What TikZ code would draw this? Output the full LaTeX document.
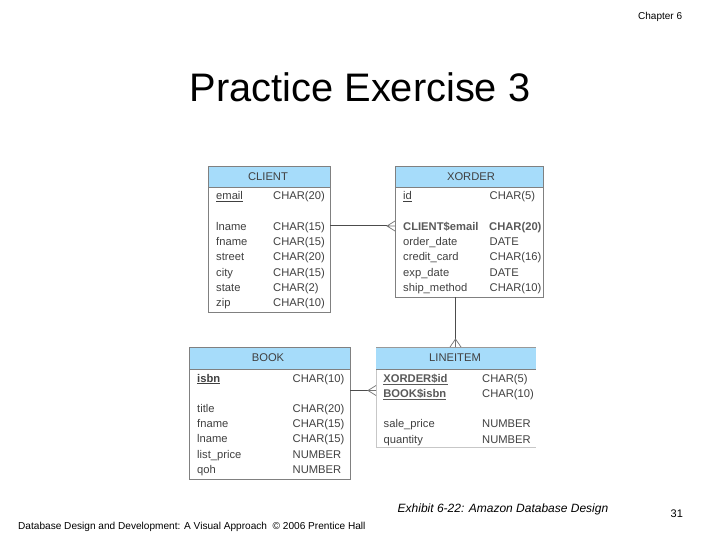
\documentclass[tikz,border=0pt]{standalone}
\usepackage{fontspec}
\setmainfont{Liberation Sans}
\newcommand{\attrsize}{\fontsize{11.2}{13}\selectfont}
\tikzset{
  x=1pt,y=-1pt,
  entbox/.style={draw=black!50,line width=0.8pt,fill=white,minimum width=#1,anchor=north west,inner sep=0pt},
  headfill/.style={fill=headblue,draw=black!50,line width=0.8pt},
  headtxt/.style={font=\attrsize,text=black!75,anchor=center,inner sep=0pt},
  attr/.style={font=\attrsize,text=black!75,anchor=base west,inner sep=0pt},
  keyattr/.style={font=\attrsize\bfseries,text=black!65,anchor=base west,inner sep=0pt},
  rel/.style={draw=black!70,line width=1pt},
  crow/.style={draw=black!55,line width=0.7pt},
  plain/.style={text=black,inner sep=0pt}
}
\definecolor{headblue}{RGB}{166,220,250}
\newcounter{fc}
\newcommand{\row}[5][attr]{\stepcounter{fc}\node[#1] (f\arabic{fc}) at (#2,#4) {#5};}
\begin{document}
\begin{tikzpicture}
\useasboundingbox (0,0) rectangle (720,540);
\fill[white] (0,0) rectangle (720,540);
% title and page texts
\node[plain,anchor=base west,font=\fontsize{10}{11}\selectfont] (chap) at (638,19.5) {Chapter 6};
\node[plain,anchor=base west,font=\fontsize{39.8}{44}\selectfont] (title) at (189.5,102) {Practice Exercise 3};
\node[plain,anchor=base west,font=\fontsize{12}{14}\selectfont\itshape] (exh) at (397.5,512) {Exhibit 6-22: Amazon Database Design};
\node[plain,anchor=base west,font=\fontsize{10.1}{11}\selectfont] (foot) at (18,529) {Database Design and Development: A Visual Approach \ \textcopyright{} 2006 Prentice Hall};
\node[plain,anchor=base west,font=\fontsize{11}{12}\selectfont] (pnum) at (670.5,517) {31};
% entity bodies
\node[entbox=121.5pt,minimum height=146pt] (client) at (208,166) {};
\node[entbox=148pt,minimum height=131pt] (xorder) at (395,166) {};
\node[entbox=160.5pt,minimum height=132pt] (book) at (189,347) {};
\node[draw=none,fill=white,minimum width=160pt,minimum height=100pt,anchor=north west,inner sep=0pt] (lineitem) at (376,347) {};
% lineitem has faint border, open on the right
\draw[black!22,line width=0.6pt] (lineitem.north west) -- (lineitem.south west) -- (lineitem.south east);
% headers
\node[headfill,minimum width=121.5pt,minimum height=21pt,anchor=north west,inner sep=0pt] (clienth) at (208,166) {};
\node[headfill,minimum width=148pt,minimum height=21pt,anchor=north west,inner sep=0pt] (xorderh) at (395,166) {};
\node[headfill,minimum width=160.5pt,minimum height=22pt,anchor=north west,inner sep=0pt] (bookh) at (189,347) {};
\node[fill=headblue,minimum width=160pt,minimum height=22pt,anchor=north west,inner sep=0pt] (lineitemh) at (376,347) {};
\draw[black!50,line width=0.8pt] (lineitemh.south west) -- (lineitemh.south east);
\draw[black!40,line width=0.6pt] (lineitemh.north west) -- (lineitemh.north east);
\node[headtxt] (clientt) at (268,177) {CLIENT};
\node[headtxt] (xordert) at (471,177) {XORDER};
\node[headtxt] (bookt) at (268,358) {BOOK};
\node[headtxt] (lineitemt) at (455,358) {LINEITEM};
% CLIENT
\row{216}{0}{199.5}{\underline{email}}
\row{273}{0}{199.5}{CHAR(20)}
\row{216}{0}{230}{lname}\row{273}{0}{230}{CHAR(15)}
\row{216}{0}{245}{fname}\row{273}{0}{245}{CHAR(15)}
\row{216}{0}{260.5}{street}\row{273}{0}{260.5}{CHAR(20)}
\row{216}{0}{276}{city}\row{273}{0}{276}{CHAR(15)}
\row{216}{0}{291}{state}\row{273}{0}{291}{CHAR(2)}
\row{216}{0}{306.5}{zip}\row{273}{0}{306.5}{CHAR(10)}
% XORDER
\row{403}{0}{199.5}{\underline{id}}\row{489.5}{0}{199.5}{CHAR(5)}
\row[keyattr]{403}{0}{230}{CLIENT\$email}\row[keyattr]{489}{0}{230}{CHAR(20)}
\row{403}{0}{245}{order\_date}\row{489.5}{0}{245}{DATE}
\row{403}{0}{260.5}{credit\_card}\row{489.5}{0}{260.5}{CHAR(16)}
\row{403}{0}{276}{exp\_date}\row{489.5}{0}{276}{DATE}
\row{403}{0}{291}{ship\_method}\row{489.5}{0}{291}{CHAR(10)}
% BOOK
\row{197}{0}{382}{\textbf{\underline{isbn}}}\row{292.5}{0}{382}{CHAR(10)}
\row{197}{0}{412}{title}\row{292.5}{0}{412}{CHAR(20)}
\row{197}{0}{427.5}{fname}\row{292.5}{0}{427.5}{CHAR(15)}
\row{197}{0}{442.5}{lname}\row{292.5}{0}{442.5}{CHAR(15)}
\row{197}{0}{458}{list\_price}\row{292.5}{0}{458}{NUMBER}
\row{197}{0}{473}{qoh}\row{292.5}{0}{473}{NUMBER}
% LINEITEM
\row[keyattr]{383.2}{0}{382}{\underline{XORDER\$id}}\row{482}{0}{382}{CHAR(5)}
\row[keyattr]{383.2}{0}{397}{\underline{BOOK\$isbn}}\row{482}{0}{397}{CHAR(10)}
\row{383.5}{0}{427.5}{sale\_price}\row{482}{0}{427.5}{NUMBER}
\row{383.5}{0}{443}{quantity}\row{482}{0}{443}{NUMBER}
% connectors
\coordinate (a1) at (client.east |- 0,226);
\coordinate (a2) at (xorder.west |- 0,226);
\coordinate (a3) at (387,226);
\draw[rel] (a1) -- (a3);
\draw[crow] (xorder.west |- 0,221) -- (a3) -- (xorder.west |- 0,231) (a3) -- (a2);
\coordinate (b1) at (455.5,297);
\coordinate (b2) at (455.5,347);
\coordinate (b3) at (455.5,339);
\draw[rel] (b1) -- (b3);
\draw[crow] (450,347) -- (b3) -- (461,347) (b3) -- (b2);
\coordinate (c1) at (book.east |- 0,390.5);
\coordinate (c2) at (lineitem.west |- 0,390.5);
\coordinate (c3) at (368,390.5);
\draw[rel] (c1) -- (c3);
\draw[crow] (lineitem.west |- 0,385.5) -- (c3) -- (lineitem.west |- 0,395.5) (c3) -- (c2);
\end{tikzpicture}
\end{document}
